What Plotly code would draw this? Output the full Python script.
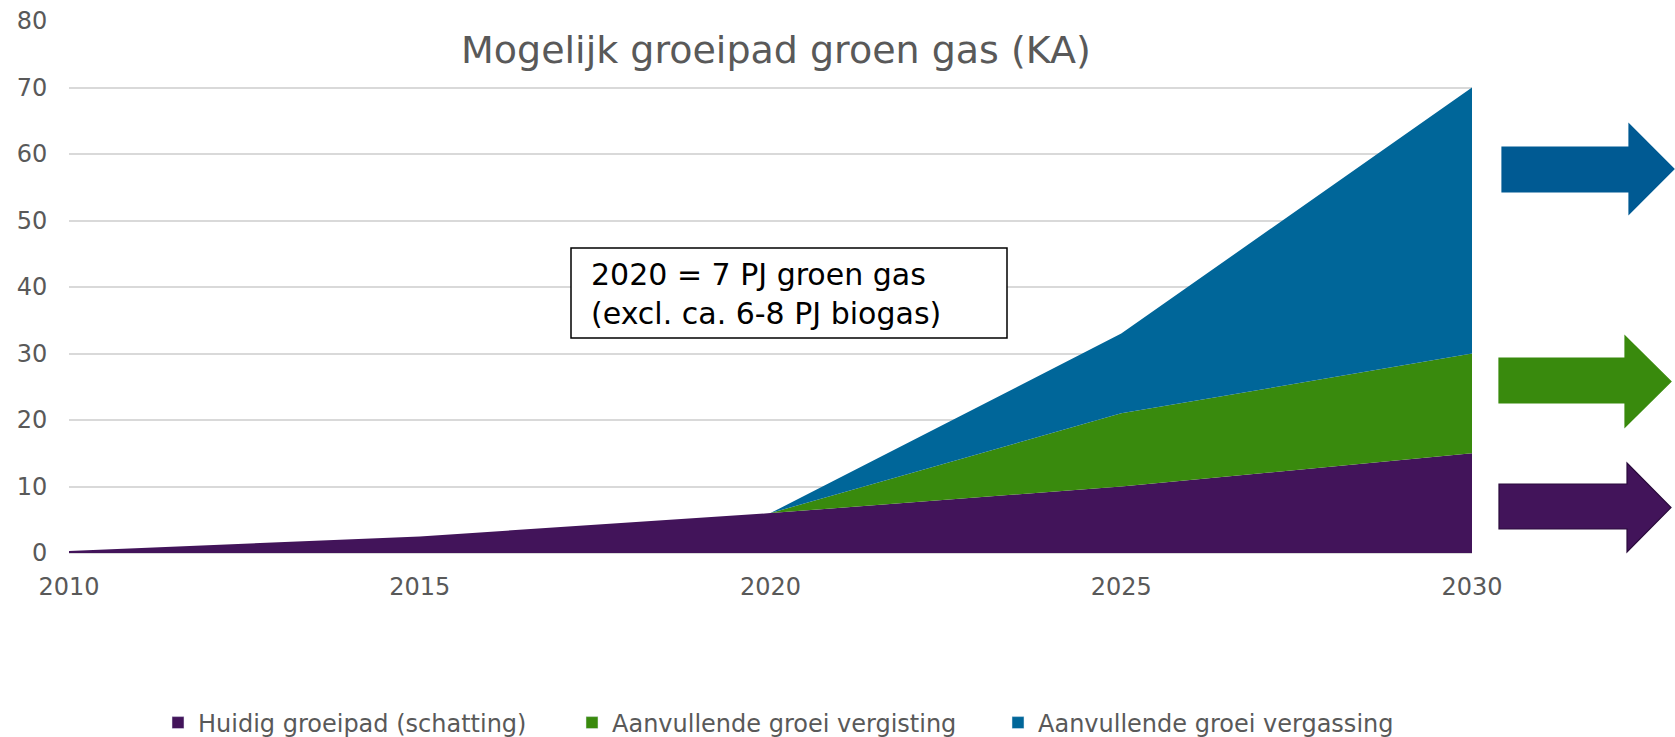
import plotly.graph_objects as go

# ---- data ----
years = [2010, 2015, 2020, 2025, 2030]
huidig = [0.3, 2.5, 6.0, 10.0, 15.0]          # Huidig groeipad (schatting)
vergisting = [0.0, 0.0, 0.0, 11.0, 15.0]      # Aanvullende groei vergisting
vergassing = [0.0, 0.0, 0.0, 12.0, 40.0]      # Aanvullende groei vergassing
series_names = ["Huidig groeipad (schatting)",
                "Aanvullende groei vergisting",
                "Aanvullende groei vergassing"]
y_ticks = list(range(0, 81, 10))
x_ticks = [2010, 2015, 2020, 2025, 2030]
title_text = "Mogelijk groeipad groen gas (KA)"
box_text = "2020 = 7 PJ groen gas<br>(excl. ca. 6-8 PJ biogas)"

# ---- styling ----
PURPLE = "#42145A"
GREEN = "#398A0D"
BLUE = "#006699"
BLUE_ARROW = "#005A93"
GRID = "#D9D9D9"
TXT = "#595959"
FONT = "DejaVu Sans"

W, H = 1675, 737
L, R, T, B = 69, 203, 21, 184
PW, PH = W - L - R, H - T - B


def px_x(px):
    return (px - L) / PW


def px_y(py):
    return (H - B - py) / PH


fig = go.Figure()
values = [huidig, vergisting, vergassing]
colors = [PURPLE, GREEN, BLUE]
legend_widths = [369, 381, 360]
for name, vals, col, lw in zip(series_names, values, colors, legend_widths):
    fig.add_trace(go.Scatter(
        x=years, y=vals, name=name, stackgroup="one", mode="lines",
        line=dict(width=0, color=col), fillcolor=col,
        legendgroup=name, showlegend=False,
    ))
    # legend-only square marker entry
    fig.add_trace(go.Bar(
        x=[None], y=[None], name=name, marker_color=col,
        legendgroup=name, showlegend=True, legendwidth=lw,
    ))

# arrows on the right (decorative)
def arrow_path(x0, xh, xt, by0, by1, hy0, hy1):
    ty = (hy0 + hy1) / 2
    pts = [(x0, by0), (xh, by0), (xh, hy0), (xt, ty), (xh, hy1), (xh, by1), (x0, by1)]
    return "M " + " L ".join(f"{px_x(a):.5f},{px_y(b):.5f}" for a, b in pts) + " Z"

arrows = [
    (arrow_path(1502, 1629, 1674, 147, 192, 124, 214), BLUE_ARROW, BLUE_ARROW),
    (arrow_path(1499, 1625, 1671, 358, 403, 336, 427), GREEN, GREEN),
    (arrow_path(1499, 1627, 1671, 484, 529, 463, 552), PURPLE, "#2A0B3C"),
]
shapes = []
for path, fc, lc in arrows:
    shapes.append(dict(type="path", xref="paper", yref="paper", path=path,
                       fillcolor=fc, line=dict(color=lc, width=1.2)))

# text box
shapes.append(dict(type="rect", xref="paper", yref="paper",
                   x0=px_x(571), x1=px_x(1007), y0=px_y(338), y1=px_y(248),
                   line=dict(color="black", width=1.5), fillcolor="white", layer="above"))

annotations = [
    dict(text=box_text, xref="paper", yref="paper", x=px_x(589), y=px_y(294),
         xanchor="left", yanchor="middle", align="left", showarrow=False,
         font=dict(family=FONT, size=30, color="black")),
    dict(text=title_text, xref="paper", yref="paper", x=px_x(776), y=px_y(50),
         xanchor="center", yanchor="middle", showarrow=False,
         font=dict(family=FONT, size=38, color=TXT)),
]

fig.update_layout(
    width=W, height=H,
    margin=dict(l=L, r=R, t=T, b=B, autoexpand=False),
    paper_bgcolor="white", plot_bgcolor="white",
    shapes=shapes, annotations=annotations,
    showlegend=True,
    legend=dict(orientation="h", x=px_x(158), y=px_y(723),
                xanchor="left", yanchor="middle",
                font=dict(family=FONT, size=24, color=TXT),
                itemclick=False, itemdoubleclick=False),
    xaxis=dict(range=[2010, 2030], tickvals=x_ticks, showgrid=False,
               zeroline=False, showline=False, ticks="outside", ticklen=12,
               tickcolor="rgba(0,0,0,0)",
               tickfont=dict(family=FONT, size=24, color=TXT)),
    yaxis=dict(range=[0, 80], tickvals=y_ticks, showgrid=True, gridcolor=GRID,
               gridwidth=2, zeroline=True, zerolinecolor=GRID, zerolinewidth=2,
               showline=False, ticks="outside", ticklen=16,
               tickcolor="rgba(0,0,0,0)",
               tickfont=dict(family=FONT, size=24, color=TXT)),
)

fig.write_html("out.html", config={"displayModeBar": False},
               post_script="document.body.style.margin='0';")
